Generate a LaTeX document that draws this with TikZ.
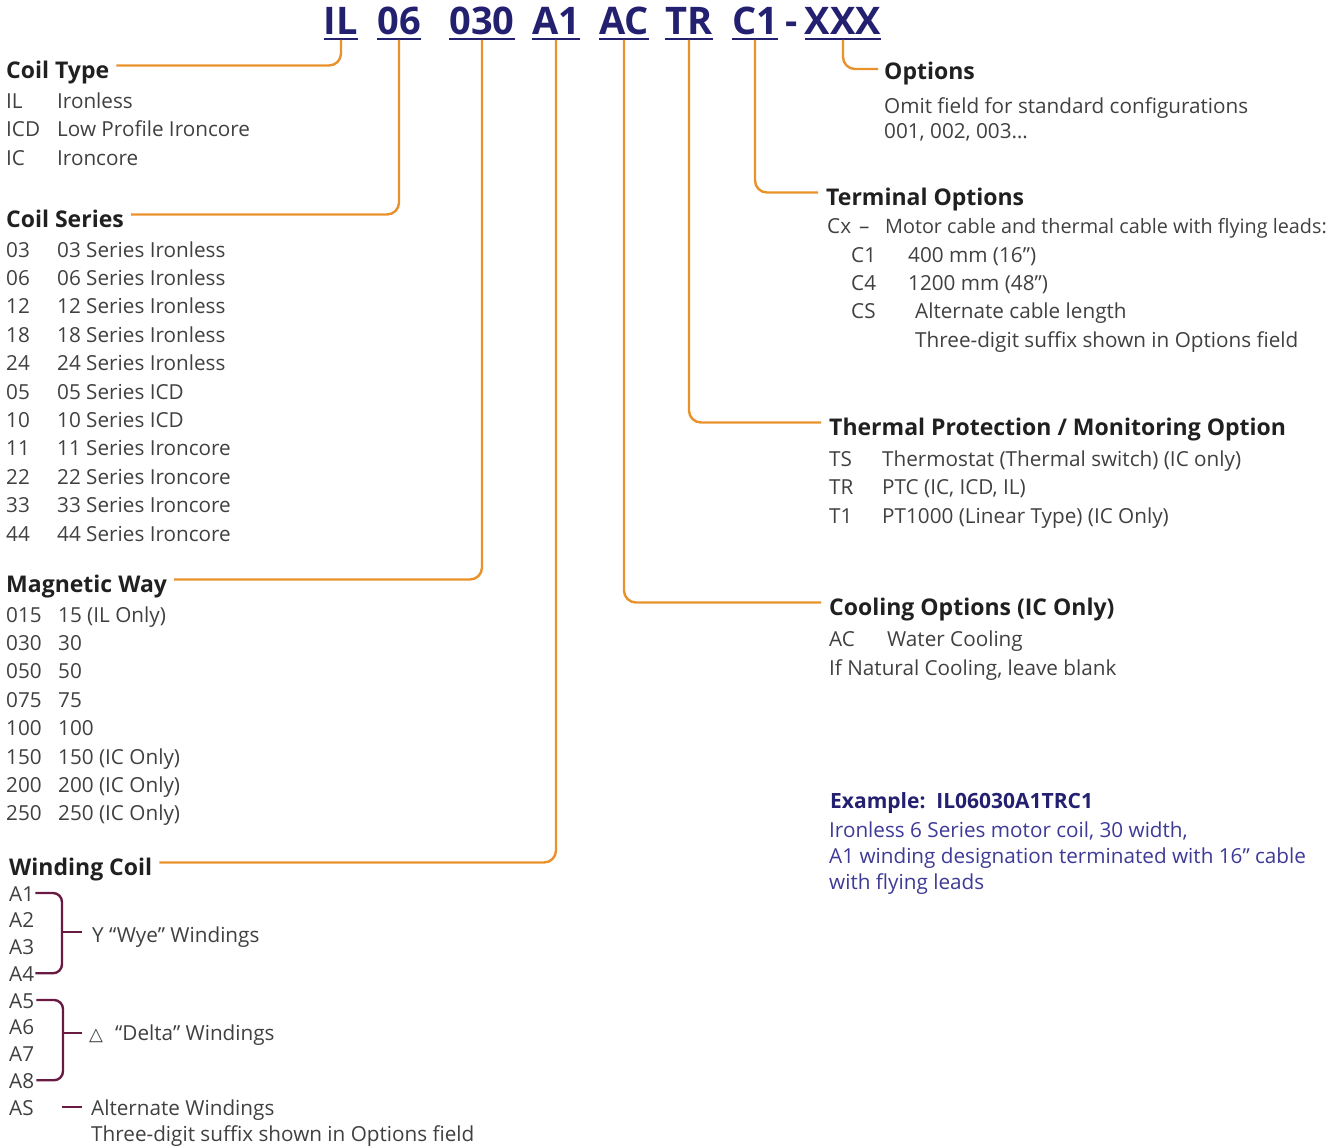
\documentclass[tikz,border=0pt]{standalone}
\usepackage{fontspec}
\setmainfont{Open Sans}
\newfontfamily\symfont{DejaVu Sans}
\usetikzlibrary{positioning, calc}
\definecolor{leadC} {RGB}{233,146, 44}
\definecolor{navyC} {RGB}{ 36, 32,112}
\definecolor{exC}   {RGB}{ 62, 58,150}
\definecolor{braceC}{RGB}{104, 26, 66}
\definecolor{textC} {RGB}{ 64, 64, 64}
\definecolor{headC} {RGB}{ 32, 32, 32}
\tikzset{
  head/.style   = {anchor=base west, inner sep=0pt, text=headC,
                   font=\fontsize{23}{28}\selectfont\bfseries},
  item/.style   = {anchor=base west, inner sep=0pt, text=textC,
                   font=\fontsize{20.7}{28}\selectfont},
  pn/.style     = {anchor=base, inner sep=0pt, text=navyC,
                   font=\fontsize{38}{40}\selectfont\bfseries},
  uline/.style  = {draw=navyC, line width=2.2pt},
  lead/.style   = {draw=leadC, line width=2.4pt, rounded corners=12pt},
  brace/.style  = {draw=braceC, line width=2.4pt, rounded corners=9pt},
  exhead/.style = {item, text=navyC, font=\fontsize{21}{28}\selectfont\bfseries},
  exline/.style = {item, text=exC},
  tri/.style    = {item, font=\symfont\fontsize{18}{18}\selectfont},
}

\begin{document}
\begin{tikzpicture}[x=1pt, y=-1pt]
\useasboundingbox (0,0) rectangle (1341,1148);

% ---- Part number ------------------------------------------------------------
\foreach \nm/\tx/\xx in {cIL/IL/341, c06/06/399, c030/030/482, cA1/A1/556,
                         cAC/AC/624, cTR/TR/689, cC1/C1/755, cXXX/XXX/843}{
  \node[pn] (\nm) at (\xx,35) {\tx};
  \draw[uline] ([yshift=-4pt]\nm.base west) -- ([yshift=-4pt]\nm.base east);
}
\node[pn] (cDash) at (792,35) {-};

% ---- Left column headings ---------------------------------------------------
\node[head] (hType)   at (6,78)  {Coil Type};
\node[head] (hSeries) at (6,227) {Coil Series};
\node[head] (hWay)    at (6,592) {Magnetic Way};
\node[head] (hWind)   at (9,875) {Winding Coil};

% ---- Coil type --------------------------------------------------------------
\foreach \cd/\ds [count=\i] in {IL/Ironless, ICD/Low Profile Ironcore, IC/Ironcore}{
  \node[item] (tc\i) at (6,79.5+28.5*\i) {\cd};
  \node[item] (td\i) at (57,79.5+28.5*\i) {\ds};
}

% ---- Coil series ------------------------------------------------------------
\foreach \cd/\ds [count=\i] in {03/03 Series Ironless, 06/06 Series Ironless,
    12/12 Series Ironless, 18/18 Series Ironless, 24/24 Series Ironless,
    05/05 Series ICD, 10/10 Series ICD, 11/11 Series Ironcore,
    22/22 Series Ironcore, 33/33 Series Ironcore, 44/44 Series Ironcore}{
  \node[item] (sc\i) at (6,228.6+28.4*\i) {\cd};
  \node[item] (sd\i) at (57,228.6+28.4*\i) {\ds};
}

% ---- Magnetic way -----------------------------------------------------------
\foreach \cd/\ds [count=\i] in {015/15 (IL Only), 030/30, 050/50, 075/75, 100/100,
    150/150 (IC Only), 200/200 (IC Only), 250/250 (IC Only)}{
  \node[item] (mc\i) at (6,593.6+28.4*\i) {\cd};
  \node[item] (md\i) at (58,593.6+28.4*\i) {\ds};
}

% ---- Winding coil -----------------------------------------------------------
\foreach \cd [count=\i] in {A1, A2, A3, A4, A5, A6, A7, A8, AS}
  \node[item] (w\i) at (9,874.25+26.75*\i) {\cd};

\coordinate (bY)  at (62,932);
\coordinate (bYt) at (82,932);
\coordinate (bD)  at (63,1033);
\coordinate (bDt) at (82,1033);
\coordinate (bS)  at (62,1107);
\coordinate (bSt) at (82,1107);

\draw[brace] ([xshift=1pt,yshift=8pt]w1.base east) -| (bY)
             |- ([xshift=1pt,yshift=8pt]w4.base east);
\draw[brace] ([xshift=2pt,yshift=8pt]w5.base east) -| (bD)
             |- ([xshift=2pt,yshift=8pt]w8.base east);
\draw[brace] (bY) -- (bYt);
\draw[brace] (bD) -- (bDt);
\draw[brace] (bS) -- (bSt);

\node[item] (lWye)   at (92,942)   {Y “Wye” Windings};
\node[tri]  (lTri)   at (89,1040)  {△};
\node[item] (lDelta) at (115,1040) {“Delta” Windings};
\node[item] (lAlt)   at (91,1115)  {Alternate Windings};
\node[item] (lAlt2)  at (91,1141)  {Three-digit suffix shown in Options field};

% ---- Right column: options --------------------------------------------------
\node[head] (hOpt) at (884,80)  {Options};
\node[item] (oL1)  at (884,113) {Omit field for standard configurations};
\node[item] (oL2)  at (884,138) {001, 002, 003…};

% ---- Terminal options -------------------------------------------------------
\node[head] (hTerm) at (826,205) {Terminal Options};
\node[item] (tCx)   at (827,233) {Cx};
\node[item] (tDash) at (859,233) {–};
\node[item, font=\fontsize{19.8}{28}\selectfont] (tCxd) at (885,233)
  {Motor cable and thermal cable with flying leads:};
\node[item] (tC1)   at (851,262) {C1};
\node[item] (tC1d)  at (908,262) {400 mm (16”)};
\node[item] (tC4)   at (851,290) {C4};
\node[item] (tC4d)  at (908,290) {1200 mm (48”)};
\node[item] (tCS)   at (851,318) {CS};
\node[item] (tCSd)  at (915,318) {Alternate cable length};
\node[item] (tCSd2) at (915,347) {Three-digit suffix shown in Options field};

% ---- Thermal protection -----------------------------------------------------
\node[head] (hTherm) at (829,435) {Thermal Protection / Monitoring Option};
\foreach \cd/\ds [count=\i] in {TS/Thermostat (Thermal switch) (IC only),
    TR/{PTC (IC, ICD, IL)}, T1/PT1000 (Linear Type) (IC Only)}{
  \node[item] (pc\i) at (829,437.5+28.5*\i) {\cd};
  \node[item] (pd\i) at (882,437.5+28.5*\i) {\ds};
}

% ---- Cooling options --------------------------------------------------------
\node[head] (hCool) at (829,615) {Cooling Options (IC Only)};
\node[item] (kAC)   at (829,646) {AC};
\node[item] (kACd)  at (887,646) {Water Cooling};
\node[item] (kNat)  at (829,675) {If Natural Cooling, leave blank};

% ---- Example ----------------------------------------------------------------
\node[exhead] (eH)  at (830,808) {Example:\ \ IL06030A1TRC1};
\node[exline] (eL1) at (829,837) {Ironless 6 Series motor coil, 30 width,};
\node[exline] (eL2) at (829,863) {A1 winding designation terminated with 16” cable};
\node[exline] (eL3) at (829,889) {with flying leads};

% ---- Leads ------------------------------------------------------------------
\draw[lead] ([yshift=-5pt]cIL.base)  |- ([xshift=7pt,yshift=12.5pt]hType.base east);
\draw[lead] ([yshift=-5pt]c06.base)  |- ([xshift=7pt,yshift=12.5pt]hSeries.base east);
\draw[lead] ([yshift=-5pt]c030.base) |- ([xshift=7pt,yshift=12.5pt]hWay.base east);
\draw[lead] ([yshift=-5pt]cA1.base)  |- ([xshift=7pt,yshift=12.5pt]hWind.base east);
\draw[lead] ([yshift=-5pt]cAC.base)  |- ([xshift=-8pt,yshift=12.5pt]hCool.base west);
\draw[lead] ([yshift=-5pt]cTR.base)  |- ([xshift=-8pt,yshift=12.5pt]hTherm.base west);
\draw[lead] ([yshift=-5pt]cC1.base)  |- ([xshift=-8pt,yshift=12.5pt]hTerm.base west);
\draw[lead] ([yshift=-5pt]cXXX.base) |- ([xshift=-6pt,yshift=11pt]hOpt.base west);

\end{tikzpicture}
\end{document}
